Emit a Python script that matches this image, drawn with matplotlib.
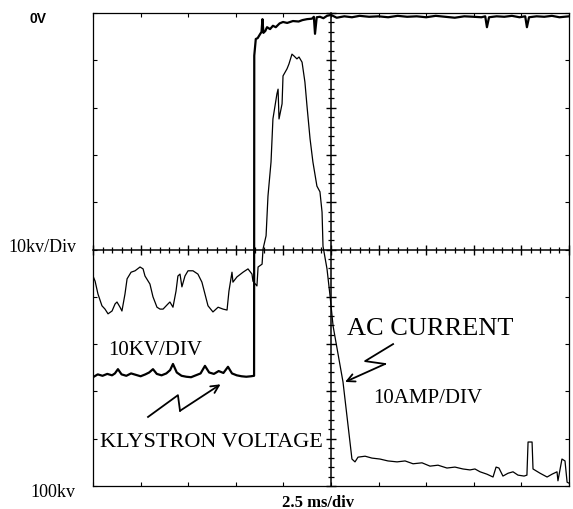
import numpy as np
import matplotlib
matplotlib.use('Agg')
import matplotlib.pyplot as plt

plt.rcParams['font.family'] = ['Liberation Serif', 'DejaVu Serif']

# time in ms (2.5 ms/div), level in divisions from the bottom of the screen
kly_t = [0.0, 0.25, 0.5, 0.75, 1.0, 1.15, 1.31, 1.5, 1.75, 2.0, 2.25, 2.5, 2.75, 2.95, 3.15, 3.35,
         3.6, 3.85, 4.05, 4.2, 4.4, 4.65, 4.9, 5.15, 5.4, 5.65, 5.88, 6.1, 6.35, 6.6, 6.85, 7.09,
         7.3, 7.55, 7.8, 8.05, 8.3, 8.46,
         8.47, 8.55, 8.65, 8.77, 8.85, 8.9, 8.95, 9.05, 9.14, 9.3, 9.45, 9.6, 9.8, 9.98, 10.2,
         10.5, 10.8, 11.0, 11.24, 11.5, 11.6, 11.66, 11.75, 11.92, 12.1, 12.29, 12.5, 12.8, 13.2,
         13.6, 14.0, 14.5, 15.0, 15.5, 16.0, 16.5, 17.0, 17.5, 18.0, 18.5, 19.0, 19.5, 20.0, 20.4,
         20.6, 20.69, 20.8, 21.2, 21.6, 22.0, 22.4, 22.7, 22.79, 22.9, 23.3, 23.7, 24.1, 24.5, 25.0]
kly_v = [2.30, 2.36, 2.33, 2.37, 2.34, 2.38, 2.47, 2.36, 2.33, 2.38, 2.35, 2.32, 2.36, 2.40, 2.47, 2.37,
         2.34, 2.38, 2.45, 2.58, 2.40, 2.33, 2.31, 2.30, 2.34, 2.38, 2.54, 2.40, 2.37, 2.43, 2.39, 2.52,
         2.38, 2.34, 2.32, 2.31, 2.32, 2.33,
         9.10, 9.45, 9.47, 9.55, 9.60, 9.87, 9.58, 9.62, 9.70, 9.66, 9.73, 9.70, 9.78, 9.81, 9.79,
         9.83, 9.82, 9.85, 9.87, 9.88, 9.92, 9.56, 9.91, 9.92, 9.89, 9.94, 9.96, 9.90, 9.93,
         9.91, 9.94, 9.92, 9.93, 9.91, 9.94, 9.92, 9.93, 9.91, 9.94, 9.92, 9.90, 9.93, 9.92, 9.91,
         9.93, 9.70, 9.91, 9.93, 9.92, 9.94, 9.91, 9.93, 9.70, 9.91, 9.93, 9.92, 9.94, 9.91, 9.93]

ac_t = [0.0, 0.11, 0.26, 0.47, 0.63, 0.79, 1.00, 1.16, 1.26, 1.42, 1.52, 1.68, 1.79, 2.00, 2.21,
        2.47, 2.63, 2.73, 2.99, 3.15, 3.36, 3.52, 3.68, 3.94, 4.04, 4.20, 4.36, 4.46, 4.57, 4.67,
        4.83, 4.99, 5.25, 5.51, 5.72, 5.88, 6.04, 6.30, 6.57, 6.83, 7.04, 7.14, 7.30, 7.35, 7.56,
        7.88, 8.14, 8.35, 8.40, 8.61, 8.67, 8.88, 8.93,
        9.09, 9.19, 9.35, 9.45, 9.66, 9.72, 9.77, 9.93, 9.98, 10.19, 10.29, 10.45, 10.56, 10.71,
        10.82, 10.98, 11.13, 11.24, 11.40, 11.55, 11.76, 11.92, 12.03, 12.08,
        12.29, 12.45, 12.61, 13.13, 13.60, 13.76, 13.92,
        14.29, 14.65, 15.07, 15.49, 15.97, 16.39, 16.81, 17.28, 17.70, 18.12, 18.59, 19.01, 19.43,
        19.80, 20.06, 20.33, 20.69, 21.01, 21.17, 21.32, 21.53, 21.80, 22.06, 22.32, 22.64, 22.79,
        22.85, 23.06, 23.11, 23.48, 23.85, 24.11, 24.37, 24.42, 24.63, 24.79, 24.90, 25.0]
ac_v = [4.44, 4.33, 4.06, 3.81, 3.74, 3.64, 3.70, 3.85, 3.89, 3.78, 3.70, 4.06, 4.38, 4.52, 4.55,
        4.63, 4.59, 4.44, 4.27, 4.00, 3.78, 3.74, 3.74, 3.85, 3.89, 3.78, 4.12, 4.44, 4.48, 4.21,
        4.44, 4.55, 4.55, 4.48, 4.31, 4.06, 3.81, 3.68, 3.78, 3.74, 3.72, 4.12, 4.52, 4.31, 4.42,
        4.52, 4.59, 4.48, 4.33, 4.23, 4.63, 4.69, 5.01,
        5.29, 6.13, 6.85, 7.76, 8.29, 8.39, 7.76, 8.08, 8.67, 8.82, 8.92, 9.13, 9.09, 9.03,
        9.07, 8.96, 8.54, 8.03, 7.34, 6.85, 6.34, 6.22, 5.79, 5.07,
        4.59, 4.02, 3.38, 2.20, 0.57, 0.51, 0.61,
        0.63, 0.59, 0.57, 0.53, 0.51, 0.53, 0.47, 0.49, 0.42, 0.44, 0.38, 0.40, 0.36,
        0.34, 0.36, 0.30, 0.25, 0.19, 0.40, 0.38, 0.21, 0.27, 0.30, 0.23, 0.21, 0.23,
        0.93, 0.93, 0.36, 0.27, 0.19, 0.25, 0.30, 0.11, 0.57, 0.53, 0.08, 0.06]

kly_arrow = [(2.89, 1.46), (4.46, 1.92), (4.57, 1.59), (6.70, 2.15)]
ac_arrow = [(15.76, 3.00), (14.29, 2.64), (15.34, 2.58), (13.24, 2.20)]

fig = plt.figure(figsize=(5.73, 5.10), dpi=100)
pos = [93/573, 23/510, 476/573, 473/510]

ax = fig.add_axes(pos)
ax.set_xlim(0, 25)
ax.set_ylim(0, 10)
ax.set_xticks(np.arange(0, 25.1, 2.5))
ax.set_yticks(np.arange(0, 10.1, 1))
ax.tick_params(direction='in', length=3, width=0.8, top=True, right=True,
               labelbottom=False, labelleft=False)
for s in ax.spines.values():
    s.set_linewidth(0.9)

# centre crosshair with graticule ticks
ax2 = fig.add_axes(pos, facecolor='none')
ax2.set_xlim(0, 25)
ax2.set_ylim(0, 10)
ax2.spines['top'].set_visible(False)
ax2.spines['right'].set_visible(False)
ax2.spines['left'].set_position(('data', 12.5))
ax2.spines['bottom'].set_position(('data', 5))
ax2.spines['left'].set_linewidth(1.1)
ax2.spines['bottom'].set_linewidth(1.1)
ax2.set_xticks(np.arange(0, 25.1, 2.5))
ax2.set_xticks(np.arange(0, 25.1, 0.5), minor=True)
ax2.set_yticks(np.arange(0, 10.1, 1))
ax2.set_yticks(np.arange(0, 10.1, 0.2), minor=True)
ax2.tick_params(which='major', direction='inout', length=7, width=1.0,
                labelbottom=False, labelleft=False)
ax2.tick_params(which='minor', direction='inout', length=4, width=0.9)

ax2.plot(kly_t, kly_v, color='black', lw=1.6)
ax2.plot(ac_t, ac_v, color='black', lw=0.9)

# lightning arrows
for pts in (kly_arrow, ac_arrow):
    xs = [p[0] for p in pts]
    ys = [p[1] for p in pts]
    ax2.plot(xs[:-1], ys[:-1], color='black', lw=1.3)
    ax2.annotate('', xy=pts[-1], xytext=pts[-2],
                 arrowprops=dict(arrowstyle='->', lw=1.3, color='black',
                                 mutation_scale=14, shrinkA=0, shrinkB=0))

ax2.text(0.79, 2.79, '10KV/DIV', fontsize=15, va='baseline', ha='left')
ax2.text(0.37, 0.85, 'KLYSTRON VOLTAGE', fontsize=16, va='baseline', ha='left')
ax2.text(13.34, 3.21, 'AC CURRENT', fontsize=19, va='baseline', ha='left')
ax2.text(14.71, 1.78, '10AMP/DIV', fontsize=15, va='baseline', ha='left')

fig.text(30/573, 1 - 19/510, '0V', fontsize=10, fontweight='bold',
         family=['Liberation Sans', 'DejaVu Sans'], va='center', ha='left')
fig.text(8/573, 1 - 252/510, '10kv/Div', fontsize=13, va='baseline', ha='left')
fig.text(30/573, 1 - 497/510, '100kv', fontsize=13, va='baseline', ha='left')
fig.text(282/573, 1 - 507/510, '2.5 ms/div', fontsize=12, fontweight='bold',
         va='baseline', ha='left')

fig.savefig('out.png', dpi=100)
